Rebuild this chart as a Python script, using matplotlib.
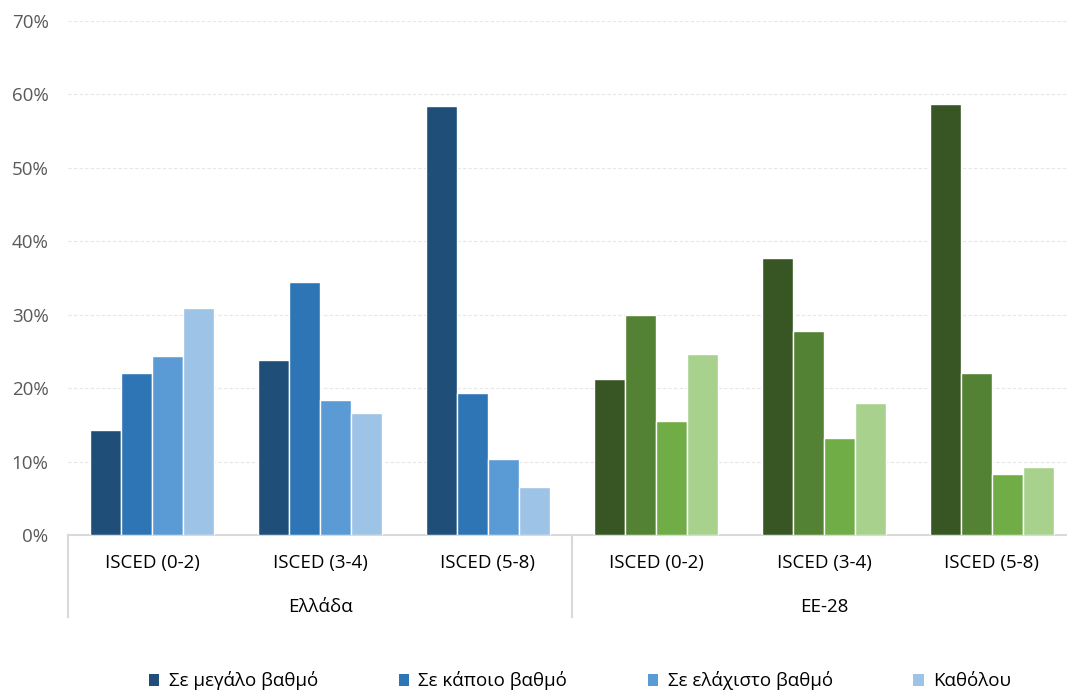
import matplotlib
matplotlib.use('Agg')
import matplotlib.pyplot as plt
from matplotlib.patches import Patch
import numpy as np

plt.rcParams['font.family'] = ['Open Sans', 'Noto Sans', 'DejaVu Sans']

# δεδομένα
levels = ['ISCED (0-2)', 'ISCED (3-4)', 'ISCED (5-8)']
regions = ['Ελλάδα', 'ΕΕ-28']
series = ['Σε μεγάλο βαθμό', 'Σε κάποιο βαθμό', 'Σε ελάχιστο βαθμό', 'Καθόλου']

greece = [
    [14.3, 23.8, 58.4],   # Σε μεγάλο βαθμό
    [22.1, 34.5, 19.3],   # Σε κάποιο βαθμό
    [24.4, 18.4, 10.4],   # Σε ελάχιστο βαθμό
    [30.9, 16.6, 6.5],    # Καθόλου
]
eu28 = [
    [21.3, 37.7, 58.7],
    [30.0, 27.8, 22.1],
    [15.5, 13.2, 8.3],
    [24.7, 18.0, 9.3],
]

blues = ['#1F4E79', '#2E75B6', '#5B9BD5', '#9DC3E6']
greens = ['#375623', '#548235', '#70AD47', '#A9D18E']

fig = plt.figure(figsize=(10.67, 6.91), dpi=100)
ax = fig.add_axes([68 / 1067, 1 - 535 / 691, 1008 / 1067, 514 / 691])

bw = 0.185
offsets = (np.arange(4) - 1.5) * bw
x_gr = np.arange(3)
x_eu = np.arange(3) + 3

for k in range(4):
    ax.bar(x_gr + offsets[k], np.array(greece[k]) / 100, bw,
           color=blues[k], edgecolor='white', linewidth=1, zorder=3)
    ax.bar(x_eu + offsets[k], np.array(eu28[k]) / 100, bw,
           color=greens[k], edgecolor='white', linewidth=1, zorder=3)

ax.set_xlim(-0.5, 5.5)
ax.set_ylim(0, 0.70)
ax.set_yticks(np.arange(0, 0.71, 0.1))
ax.set_yticklabels([f'{int(round(v * 100))}%' for v in np.arange(0, 0.71, 0.1)])
ax.tick_params(axis='y', length=0, labelsize=13.5, labelcolor='#595959', pad=14)
ax.set_xticks([])
ax.grid(axis='y', color='#E6E6E6', linestyle=(0, (3, 2)), linewidth=0.8, zorder=0)
for s in ['top', 'right', 'left']:
    ax.spines[s].set_visible(False)
ax.spines['bottom'].set_color('#D9D9D9')
ax.spines['bottom'].set_linewidth(1.5)

# ετικέτες κατηγοριών
trans = ax.get_xaxis_transform()
for i, lab in enumerate(levels * 2):
    ax.text(i, -28 / 514, lab, transform=trans, ha='center', va='center',
            fontsize=13.5, color='black')
for j, reg in enumerate(regions):
    ax.text(1 + 3 * j, -72 / 514, reg, transform=trans, ha='center', va='center',
            fontsize=13.5, color='black')
for xs in [-0.5, 2.5, 5.5]:
    ax.plot([xs, xs], [0, -82 / 514], transform=trans, color='#D9D9D9',
            linewidth=1.5, clip_on=False)

handles = [Patch(facecolor=c, edgecolor='none') for c in blues]
fig.legend(handles, series, loc='center', bbox_to_anchor=(580 / 1067, 1 - 681 / 691),
           ncol=4, frameon=False, fontsize=13.5, handlelength=0.55, handleheight=0.55,
           handletextpad=0.5, columnspacing=4.3, borderpad=0)

fig.savefig('out.png', dpi=100)
